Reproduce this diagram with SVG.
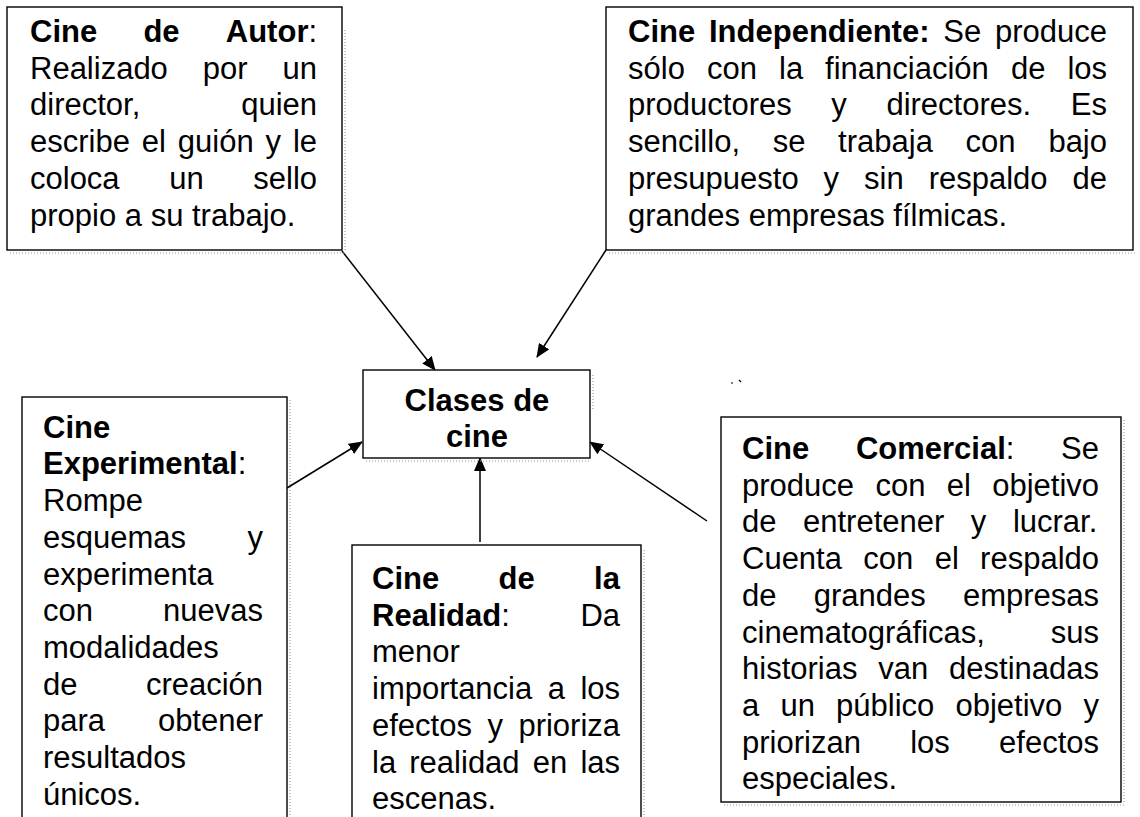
<svg xmlns="http://www.w3.org/2000/svg" width="1140" height="817" viewBox="0 0 1140 817">
<style>
  .box { fill: #ffffff; stroke: #000000; stroke-width: 1.4; }
  .shadow { fill: none; stroke: #9a9a9a; stroke-width: 1.2; stroke-dasharray: 1 2; }
  .t { font-family: "Liberation Sans", Arial, sans-serif; font-size: 31px; fill: #000000; }
  .b { font-weight: bold; }
  .conn { stroke: #000000; stroke-width: 1.5; fill: none; marker-end: url(#arrow); }
</style>
<defs>
  <marker id="arrow" markerUnits="userSpaceOnUse" markerWidth="14" markerHeight="12" refX="13" refY="6" orient="auto">
    <path d="M0,0 L14,6 L0,12 Z" fill="#000000"/>
  </marker>
</defs>
<rect x="0" y="0" width="1140" height="817" fill="#ffffff"/>

<g id="connectors">
  <line class="conn" x1="342" y1="251" x2="435" y2="370"/>
  <line class="conn" x1="606" y1="250" x2="537" y2="357"/>
  <line class="conn" x1="287" y1="488" x2="362" y2="442"/>
  <line class="conn" x1="480" y1="542" x2="480" y2="458"/>
  <line class="conn" x1="707" y1="521" x2="590" y2="442"/>
</g>

<g id="cine-autor">
  <rect class="box" x="7" y="7" width="335" height="243"/>
  <path class="shadow" d="M345,30 V252 M10,253 H344"/>
  <text class="t" y="42"><tspan class="b" x="30">Cine</tspan><tspan class="b" x="143.4">de</tspan><tspan class="b" x="225.8">Autor</tspan><tspan>:</tspan></text>
  <text class="t" y="78.7"><tspan x="30">Realizado</tspan><tspan x="202.7">por</tspan><tspan x="282.5">un</tspan></text>
  <text class="t" y="115.4"><tspan x="30">director,</tspan><tspan x="241.2">quien</tspan></text>
  <text class="t" y="152.1"><tspan x="30">escribe</tspan><tspan x="141.8">el</tspan><tspan x="177.8">guión</tspan><tspan x="265.5">y</tspan><tspan x="292.9">le</tspan></text>
  <text class="t" y="188.8"><tspan x="30">coloca</tspan><tspan x="169.2">un</tspan><tspan x="253.3">sello</tspan></text>
  <text class="t" x="30" y="225.5">propio a su trabajo.</text>
</g>

<g id="cine-independiente">
  <rect class="box" x="606" y="7" width="527" height="243"/>
  <path class="shadow" d="M609,253 H1135"/>
  <text class="t" y="42"><tspan class="b" x="628">Cine</tspan><tspan class="b" x="709">Independiente:</tspan><tspan x="943.3">Se</tspan><tspan x="995">produce</tspan></text>
  <text class="t" y="78.7"><tspan x="628">sólo</tspan><tspan x="706.9">con</tspan><tspan x="779">la</tspan><tspan x="825.1">financiación</tspan><tspan x="1010.9">de</tspan><tspan x="1067.4">los</tspan></text>
  <text class="t" y="115.4"><tspan x="628">productores</tspan><tspan x="831.3">y</tspan><tspan x="886.4">directores.</tspan><tspan x="1070.8">Es</tspan></text>
  <text class="t" y="152.1"><tspan x="628">sencillo,</tspan><tspan x="772.7">se</tspan><tspan x="838.1">trabaja</tspan><tspan x="965.6">con</tspan><tspan x="1048.4">bajo</tspan></text>
  <text class="t" y="188.8"><tspan x="628">presupuesto</tspan><tspan x="823.6">y</tspan><tspan x="864.1">sin</tspan><tspan x="928.7">respaldo</tspan><tspan x="1072.5">de</tspan></text>
  <text class="t" x="628" y="225.5">grandes empresas fílmicas.</text>
</g>

<g id="clases-de-cine">
  <rect class="box" x="363" y="370" width="227" height="88"/>
  <path class="shadow" d="M366,461 H590 M593,375 V410"/>
  <text class="t b" x="477" y="411" text-anchor="middle">Clases de</text>
  <text class="t b" x="477" y="447" text-anchor="middle">cine</text>
</g>

<g id="cine-experimental">
  <rect class="box" x="22" y="397" width="265" height="440"/>
  <path class="shadow" d="M290,400 V817"/>
  <text class="t b" x="43" y="437.7">Cine</text>
  <text class="t" y="474.4"><tspan class="b" x="43">Experimental</tspan><tspan>:</tspan></text>
  <text class="t" x="43" y="511.1">Rompe</text>
  <text class="t" y="547.8"><tspan x="43">esquemas</tspan><tspan x="247.5">y</tspan></text>
  <text class="t" x="43" y="584.5">experimenta</text>
  <text class="t" y="621.2"><tspan x="43">con</tspan><tspan x="163.1">nuevas</tspan></text>
  <text class="t" x="43" y="657.9">modalidades</text>
  <text class="t" y="694.6"><tspan x="43">de</tspan><tspan x="145.9">creación</tspan></text>
  <text class="t" y="731.3"><tspan x="43">para</tspan><tspan x="157.9">obtener</tspan></text>
  <text class="t" x="43" y="768">resultados</text>
  <text class="t" x="43" y="804.7">únicos.</text>
</g>

<g id="cine-realidad">
  <rect class="box" x="352" y="545" width="289" height="292"/>
  <path class="shadow" d="M644,550 V817"/>
  <text class="t b" y="589"><tspan x="372">Cine</tspan><tspan x="498.6">de</tspan><tspan x="594.1">la</tspan></text>
  <text class="t" y="625.7"><tspan class="b" x="372">Realidad</tspan><tspan>:</tspan><tspan x="580.4">Da</tspan></text>
  <text class="t" x="372" y="662.4">menor</text>
  <text class="t" y="699.1"><tspan x="372">importancia</tspan><tspan x="547.7">a</tspan><tspan x="580.4">los</tspan></text>
  <text class="t" y="735.8"><tspan x="372">efectos</tspan><tspan x="487.4">y</tspan><tspan x="518.4">prioriza</tspan></text>
  <text class="t" y="772.5"><tspan x="372">la</tspan><tspan x="409.3">realidad</tspan><tspan x="532.7">en</tspan><tspan x="580.4">las</tspan></text>
  <text class="t" x="372" y="809.2">escenas.</text>
</g>

<g id="cine-comercial">
  <rect class="box" x="721" y="417" width="400" height="385"/>
  <path class="shadow" d="M1124,420 V804 M724,805 H1124"/>
  <text class="t" y="459"><tspan class="b" x="742">Cine</tspan><tspan class="b" x="855.9">Comercial</tspan><tspan>:</tspan><tspan x="1061.1">Se</tspan></text>
  <text class="t" y="495.7"><tspan x="742">produce</tspan><tspan x="875.4">con</tspan><tspan x="946.8">el</tspan><tspan x="992.2">objetivo</tspan></text>
  <text class="t" y="532.4"><tspan x="742">de</tspan><tspan x="803">entretener</tspan><tspan x="970.8">y</tspan><tspan x="1012.9">lucrar.</tspan></text>
  <text class="t" y="569.1"><tspan x="742">Cuenta</tspan><tspan x="863.3">con</tspan><tspan x="934.7">el</tspan><tspan x="980.1">respaldo</tspan></text>
  <text class="t" y="605.8"><tspan x="742">de</tspan><tspan x="813.7">grandes</tspan><tspan x="962.9">empresas</tspan></text>
  <text class="t" y="642.5"><tspan x="742">cinematográficas,</tspan><tspan x="1050.8">sus</tspan></text>
  <text class="t" y="679.2"><tspan x="742">historias</tspan><tspan x="878.3">van</tspan><tspan x="949.1">destinadas</tspan></text>
  <text class="t" y="715.9"><tspan x="742">a</tspan><tspan x="780.4">un</tspan><tspan x="836.1">público</tspan><tspan x="955.5">objetivo</tspan><tspan x="1083.5">y</tspan></text>
  <text class="t" y="752.6"><tspan x="742">priorizan</tspan><tspan x="910.2">los</tspan><tspan x="999.1">efectos</tspan></text>
  <text class="t" x="742" y="789.3">especiales.</text>
</g>

<g id="scan-marks">
  <path d="M731,383 h2 M739,380 l2,2" stroke="#000000" stroke-width="1.2" fill="none"/>
</g>
</svg>
